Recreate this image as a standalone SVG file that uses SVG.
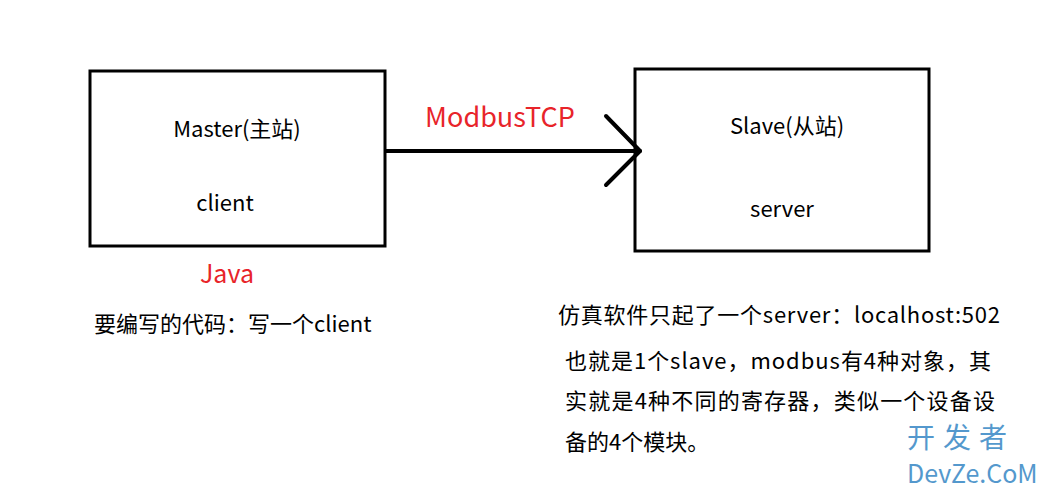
<svg xmlns="http://www.w3.org/2000/svg" width="1063" height="492" viewBox="0 0 1063 492">
<style>
.box{fill:#fff;stroke:#000;stroke-width:3}
text{font-family:"Noto Sans CJK SC","Noto Sans",sans-serif;fill:#000;font-size:22px}
.red{fill:#e8242a;font-size:27px}
.j{font-size:25px}
.c{stroke:#000;stroke-width:4;fill:none;stroke-linecap:round;stroke-linejoin:round}
.w1{fill:#2a7fc1;font-size:28px;letter-spacing:8px}
.w2{fill:#2a7fc1;font-size:25px}
</style>
<rect width="1063" height="492" fill="#fff"/>
<g id="master">
<rect class="box" x="90" y="71" width="295" height="175"/>
<text x="237" y="137" text-anchor="middle">Master(主站)</text>
<text x="225" y="211" text-anchor="middle">client</text>
</g>
<g id="slave">
<rect class="box" x="635" y="69" width="294" height="182"/>
<text x="787" y="134" text-anchor="middle">Slave(从站)</text>
<text x="782" y="217" text-anchor="middle">server</text>
</g>
<g id="connectors">
<line class="c" x1="386" y1="151" x2="640" y2="151"/>
<polyline class="c" points="606,116 640,151 606,185"/>
<text class="red" x="500" y="127" text-anchor="middle">ModbusTCP</text>
</g>
<g id="notes">
<text class="red j" x="227" y="283" text-anchor="middle">Java</text>
<text x="94" y="332">要编写的代码：写一个client</text>
<text x="558" y="323" textLength="442">仿真软件只起了一个server：localhost:502</text>
<text x="565" y="369" textLength="426">也就是1个slave，modbus有4种对象，其</text>
<text x="565" y="409" textLength="430">实就是4种不同的寄存器，类似一个设备设</text>
<text x="565" y="450">备的4个模块。</text>
</g>
<g id="watermark" opacity="0.8">
<text class="w1" x="907" y="448">开发者</text>
<text class="w2" x="907" y="483">DevZe.CoM</text>
</g>
</svg>
